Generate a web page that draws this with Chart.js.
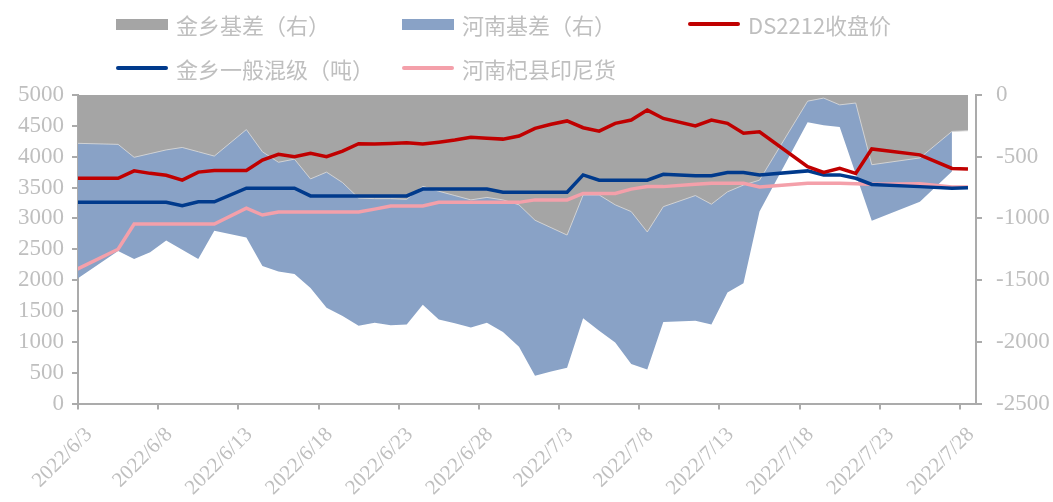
<!DOCTYPE html>
<html>
<head>
<meta charset="utf-8">
<script src="https://cdn.jsdelivr.net/npm/chart.js@4.4.0/dist/chart.umd.min.js"></script>
<style>
  body { margin: 0; background: #fff; }
  #wrap { position: relative; width: 1053px; height: 502px; }
  .lg { position: absolute; font: 22px "Noto Sans CJK SC", sans-serif; color: #bfbfbf; white-space: nowrap; line-height: 24px; }
  .lg i { position: absolute; left: 0; display: block; }
  .lg span { position: absolute; left: 60px; top: -12px; }
</style>
</head>
<body>
<div id="wrap">
  <canvas id="c" width="1053" height="502"></canvas>
  <div id="legend"></div>
</div>
<script>
// dates of the data points
const dates = ['2022/6/2','2022/6/5','2022/6/6','2022/6/7','2022/6/8','2022/6/9','2022/6/10','2022/6/11',
  '2022/6/13','2022/6/14','2022/6/15','2022/6/16','2022/6/17','2022/6/18','2022/6/19','2022/6/20','2022/6/21',
  '2022/6/22','2022/6/23','2022/6/24','2022/6/25','2022/6/26','2022/6/27','2022/6/28','2022/6/29','2022/6/30',
  '2022/7/1','2022/7/2','2022/7/3','2022/7/4','2022/7/5','2022/7/6','2022/7/7','2022/7/8','2022/7/9',
  '2022/7/11','2022/7/12','2022/7/13','2022/7/14','2022/7/15',
  '2022/7/18','2022/7/19','2022/7/20','2022/7/21','2022/7/22',
  '2022/7/25','2022/7/27','2022/7/28'];

// DS2212收盘价 (left axis)
const ds2212 = [3650, 3650,3770,3730,3700,3620,3750,3775,
  3775,3945,4040,4000,4055,4000,4090,4210,4205,4215,4225,4205,4235,4270,4315,4300,4285,4335,
  4460,4525,4580,4470,4415,4540,4595,4755,4620,
  4500,4595,4540,4380,4405,
  3840,3745,3810,3730,4125,
  4030,3810,3800];

// 金乡一般混级（吨） (left axis)
const jinxiang = [3260, 3260,3260,3260,3260,3205,3270,3270,
  3490,3490,3490,3490,3365,3365,3365,3365,3365,3365,3365,3475,3475,3475,3475,3475,3425,3425,
  3425,3425,3425,3705,3620,3620,3620,3620,3715,
  3690,3690,3745,3745,3705,
  3770,3705,3705,3650,3550,
  3515,3490,3495];

// 河南杞县印尼货 (left axis)
const qixian = [2120, 2500,2910,2910,2910,2910,2910,2910,
  3165,3055,3105,3105,3105,3105,3105,3105,3150,3200,3200,3200,3260,3260,3260,3260,3260,3260,
  3300,3300,3300,3405,3405,3405,3475,3515,3515,
  3555,3570,3570,3570,3510,
  3570,3570,3570,3560,3555,
  3560,3510,3510];

// 金乡基差（右）
const jinxiangBasis = [-390, -400,-505,-475,-445,-425,-460,-495,
  -280,-460,-545,-520,-680,-625,-710,-835,-840,-840,-845,-740,-780,-815,-850,-830,-850,-890,
  -1015,-1075,-1135,-810,-810,-890,-945,-1110,-905,
  -815,-885,-785,-730,-690,
  -50,-25,-80,-65,-565,
  -510,-295,-290];

// 河南基差（右）
const henanBasis = [-1530, -1265,-1330,-1275,-1180,-1255,-1330,-1100,
  -1155,-1385,-1430,-1450,-1565,-1725,-1790,-1870,-1845,-1865,-1860,-1700,-1820,-1850,-1885,-1845,-1920,-2040,
  -2275,-2240,-2210,-1810,-1910,-2005,-2180,-2225,-1840,
  -1830,-1860,-1600,-1525,-945,
  -220,-245,-260,null,-1020,
  -865,-620,null];

const xTickDates = ['2022/6/3','2022/6/8','2022/6/13','2022/6/18','2022/6/23','2022/6/28',
  '2022/7/3','2022/7/8','2022/7/13','2022/7/18','2022/7/23','2022/7/28'];

const t0 = Date.UTC(2022, 5, 3);
function dayNum(s) {
  const [y, m, d] = s.split('/').map(Number);
  return (Date.UTC(y, m - 1, d) - t0) / 864e5;
}
// points sit in the middle of their day slot
function pts(arr) {
  return dates.map((d, i) => ({ x: dayNum(d) + 0.5, y: arr[i] }));
}

const axisColor = '#ababab';
const textColor = '#bfbfbf';
const plain = v => String(v);

const chart = new Chart(document.getElementById('c'), {
  type: 'line',
  data: {
    datasets: [
      {
        label: 'DS2212收盘价', data: pts(ds2212), yAxisID: 'y',
        borderColor: '#c00000', borderWidth: 3.5, pointRadius: 0, order: 1
      },
      {
        label: '金乡一般混级（吨）', data: pts(jinxiang), yAxisID: 'y',
        borderColor: '#003a8c', borderWidth: 3.5, pointRadius: 0, order: 2
      },
      {
        label: '河南杞县印尼货', data: pts(qixian), yAxisID: 'y',
        borderColor: '#f4a0aa', borderWidth: 3.5, pointRadius: 0, order: 3
      },
      {
        label: '金乡基差（右）', data: pts(jinxiangBasis), yAxisID: 'y1',
        borderColor: 'rgba(215,215,215,0.9)', borderWidth: 1, backgroundColor: '#a5a5a5',
        fill: 'origin', pointRadius: 0, order: 4, clip: 0
      },
      {
        label: '河南基差（右）', data: pts(henanBasis), yAxisID: 'y1',
        borderColor: 'rgba(0,0,0,0)', borderWidth: 0, backgroundColor: '#89a2c6',
        fill: 'origin', pointRadius: 0, order: 5, clip: 0
      }
    ]
  },
  options: {
    responsive: false,
    animation: false,
    spanGaps: true,
    layout: { padding: { top: 95, left: 0, right: 0, bottom: 0 } },
    plugins: { legend: { display: false }, tooltip: { enabled: false } },
    scales: {
      x: {
        type: 'linear', min: 0, max: 56,
        afterBuildTicks: s => { s.ticks = xTickDates.map(d => ({ value: dayNum(d) })); },
        afterFit: s => { s.height = 98.5; },
        ticks: {
          autoSkip: false, maxRotation: 45, minRotation: 45,
          callback: (v, i) => xTickDates[i],
          font: { family: 'Liberation Serif', size: 21 }, color: textColor,
          labelOffset: 11, padding: 13
        },
        grid: { drawOnChartArea: false, color: axisColor, tickLength: 6, lineWidth: 2 },
        border: { color: axisColor, width: 2 }
      },
      y: {
        position: 'left', min: 0, max: 5000,
        afterFit: s => { s.width = 78; },
        ticks: { stepSize: 500, callback: plain, font: { family: 'Liberation Serif', size: 23 }, color: textColor, padding: 8 },
        grid: { drawOnChartArea: false, color: axisColor, tickLength: 6, lineWidth: 2 },
        border: { color: axisColor, width: 2 }
      },
      y1: {
        position: 'right', min: -2500, max: 0,
        afterFit: s => { s.width = 77; },
        ticks: { stepSize: 500, callback: plain, font: { family: 'Liberation Serif', size: 23 }, color: textColor, padding: 14 },
        grid: { drawOnChartArea: false, color: axisColor, tickLength: 6, lineWidth: 2 },
        border: { color: axisColor, width: 2 }
      }
    }
  }
});

// legend laid out in a grid like the original
const legendSpots = [
  { ds: 3, x: 116, y: 24, box: true },
  { ds: 4, x: 402, y: 24, box: true },
  { ds: 0, x: 688, y: 24 },
  { ds: 1, x: 116, y: 68 },
  { ds: 2, x: 402, y: 68 }
];
const lg = document.getElementById('legend');
legendSpots.forEach(p => {
  const d = chart.data.datasets[p.ds];
  const el = document.createElement('div');
  el.className = 'lg';
  el.style.left = p.x + 'px';
  el.style.top = p.y + 'px';
  const mark = document.createElement('i');
  if (p.box) {
    mark.style.cssText = `width:52px;height:11px;top:-5px;background:${d.backgroundColor}`;
  } else {
    mark.style.cssText = `width:52px;height:4px;top:-2px;border-radius:2px;background:${d.borderColor}`;
  }
  const txt = document.createElement('span');
  txt.textContent = d.label;
  el.appendChild(mark);
  el.appendChild(txt);
  lg.appendChild(el);
});
</script>
</body>
</html>
